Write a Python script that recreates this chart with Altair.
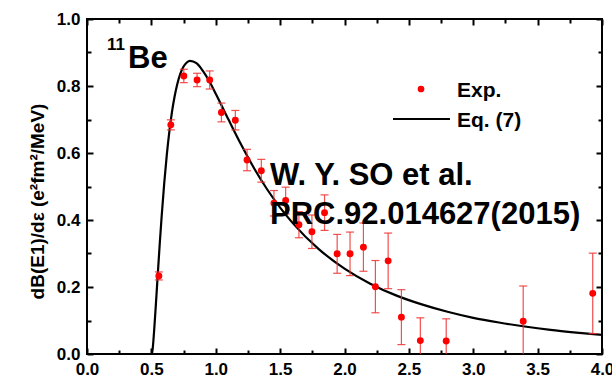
import altair as alt
import pandas as pd

# ---- data ----
exp_x = [0.558, 0.651, 0.752, 0.855, 0.953, 1.044, 1.152, 1.243, 1.354, 1.452,
         1.543, 1.646, 1.747, 1.845, 1.943, 2.043, 2.147, 2.240, 2.339, 2.442,
         2.589, 2.790, 3.388, 3.928]
exp_y = [0.233, 0.684, 0.830, 0.818, 0.818, 0.721, 0.698, 0.579, 0.547, 0.450,
         0.458, 0.386, 0.365, 0.422, 0.299, 0.299, 0.319, 0.201, 0.278, 0.110,
         0.040, 0.039, 0.098, 0.181]
exp_err = [0.012, 0.015, 0.020, 0.020, 0.027, 0.028, 0.029, 0.032, 0.034, 0.038,
           0.040, 0.039, 0.050, 0.053, 0.058, 0.065, 0.072, 0.078, 0.083, 0.082,
           0.068, 0.066, 0.105, 0.120]

curve_x = [0.504, 0.51, 0.52, 0.535, 0.55, 0.565, 0.58, 0.60, 0.62, 0.64, 0.66,
           0.68, 0.70, 0.725, 0.75, 0.775, 0.80, 0.85, 0.90, 0.95, 1.0, 1.1, 1.2,
           1.3, 1.4, 1.5, 1.6, 1.8, 2.0, 2.2, 2.4, 2.6, 2.8, 3.0, 3.2, 3.4, 3.6,
           3.8, 4.0]
curve_y = [0.0, 0.015, 0.062, 0.148, 0.240, 0.329, 0.412, 0.511, 0.595, 0.665,
           0.723, 0.768, 0.804, 0.837, 0.858, 0.870, 0.875, 0.868, 0.845, 0.814,
           0.777, 0.699, 0.623, 0.553, 0.491, 0.437, 0.390, 0.313, 0.255, 0.210,
           0.175, 0.148, 0.126, 0.108, 0.094, 0.082, 0.072, 0.064, 0.057]

x_ticks = [0.0, 0.25, 0.5, 0.75, 1.0, 1.25, 1.5, 1.75, 2.0, 2.25, 2.5, 2.75,
           3.0, 3.25, 3.5, 3.75, 4.0]
y_ticks = [0.0, 0.1, 0.2, 0.3, 0.4, 0.5, 0.6, 0.7, 0.8, 0.9, 1.0]

legend_labels = ["Exp.", "Eq. (7)"]
y_title = "dB(E1)/dε (e²fm²/MeV)"
nucleus_mass = "11"
nucleus_symbol = "Be"
ref_lines = ["W. Y. SO et al.", "PRC.92.014627(2015)"]

FONT = "Liberation Sans"
RED = "#ff0000"
ERR_RED = "#f03030"

exp_df = pd.DataFrame({
    "x": exp_x,
    "y": exp_y,
    "lo": [v - e for v, e in zip(exp_y, exp_err)],
    "hi": [v + e for v, e in zip(exp_y, exp_err)],
})
curve_df = pd.DataFrame({"x": curve_x, "y": curve_y})

xscale = alt.Scale(domain=[0, 4], nice=False, zero=False)
yscale = alt.Scale(domain=[0, 1], nice=False, zero=False)

x_tick_size = {"expr": "round(datum.value*4) % 2 === 0 ? -6 : -4"}
y_tick_size = {"expr": "round(datum.value*10) % 2 === 0 ? -6 : -4"}

tick_style = dict(domain=False, grid=False, ticks=True, tickColor="black",
                  tickWidth=2)
label_style = dict(labelFont=FONT, labelFontSize=17, labelFontWeight="bold",
                   labelColor="black", labelFlush=False, labelOverlap=False,
                   labelPadding=13)

x_bottom = alt.Axis(orient="bottom", values=x_ticks, tickSize=x_tick_size,
                    labelExpr="round(datum.value*4) % 2 === 0 ? format(datum.value, '.1f') : ''",
                    title=None, **tick_style, **label_style)
x_top = alt.Axis(orient="top", values=x_ticks, tickSize=x_tick_size,
                 labels=False, title=None, **tick_style)
y_left = alt.Axis(orient="left", values=y_ticks, tickSize=y_tick_size,
                  labelExpr="round(datum.value*10) % 2 === 0 ? format(datum.value, '.1f') : ''",
                  title=y_title, titleFont=FONT, titleFontSize=19,
                  titleFontWeight="bold", titleColor="black", titleX=-50,
                  titleY=182, titleBaseline="middle", titleAngle=270,
                  titleAlign="center", **tick_style, **label_style)
y_right = alt.Axis(orient="right", values=y_ticks, tickSize=y_tick_size,
                   labels=False, title=None, **tick_style)

# error bars (carry the top/right axes)
err_rules = alt.Chart(exp_df).mark_rule(color=ERR_RED, strokeWidth=1.2,
                                         opacity=0.85, clip=True).encode(
    x=alt.X("x:Q", scale=xscale, axis=x_top),
    y=alt.Y("lo:Q", scale=yscale, axis=y_right),
    y2="hi:Q",
)
cap_lo = alt.Chart(exp_df).mark_tick(color=ERR_RED, orient="horizontal", size=8,
                                      thickness=1.2, opacity=0.85, clip=True).encode(
    x=alt.X("x:Q", scale=xscale, axis=None),
    y=alt.Y("lo:Q", scale=yscale, axis=None),
)
cap_hi = alt.Chart(exp_df).mark_tick(color=ERR_RED, orient="horizontal", size=8,
                                      thickness=1.2, opacity=0.85, clip=True).encode(
    x=alt.X("x:Q", scale=xscale, axis=None),
    y=alt.Y("hi:Q", scale=yscale, axis=None),
)
points = alt.Chart(exp_df).mark_circle(color=RED, opacity=1, size=48).encode(
    x=alt.X("x:Q", scale=xscale, axis=None),
    y=alt.Y("y:Q", scale=yscale, axis=None),
)
curve = alt.Chart(curve_df).mark_line(color="black", strokeWidth=2.2,
                                      interpolate="monotone", clip=True).encode(
    x=alt.X("x:Q", scale=xscale, axis=x_bottom),
    y=alt.Y("y:Q", scale=yscale, axis=y_left),
)


def label(text, px, py, size, align="left"):
    return alt.Chart(pd.DataFrame({"t": [text]})).mark_text(
        font=FONT, fontWeight="bold", fontSize=size, color="black",
        align=align, baseline="alphabetic").encode(
        x=alt.value(px), y=alt.value(py), text="t:N")


leg_dot = alt.Chart(pd.DataFrame({"t": [legend_labels[0]]})).mark_circle(
    color=RED, size=45, opacity=1).encode(x=alt.value(334), y=alt.value(70))
leg_line = alt.Chart(pd.DataFrame({"t": [legend_labels[1]]})).mark_rule(
    color="black", strokeWidth=2.2).encode(
    x=alt.value(306), x2=alt.value(363), y=alt.value(100))

chart = alt.layer(
    curve, err_rules, cap_lo, cap_hi, points,
    leg_dot, leg_line,
    label(legend_labels[0], 370, 78, 21),
    label(legend_labels[1], 370, 108, 21),
    label(nucleus_mass, 20, 31, 17),
    label(nucleus_symbol, 41, 49, 31),
    label(ref_lines[0], 183, 166, 31),
    label(ref_lines[1], 183, 205, 31),
).resolve_axis(x="independent", y="independent").properties(
    width=515, height=335,
    autosize=alt.AutoSizeParams(type="none"),
    padding={"left": 87, "top": 19, "right": 10, "bottom": 31},
    background="white",
).configure_view(stroke="black", strokeWidth=2)

chart.save("out.html", embed_options={"renderer": "svg", "actions": False})
